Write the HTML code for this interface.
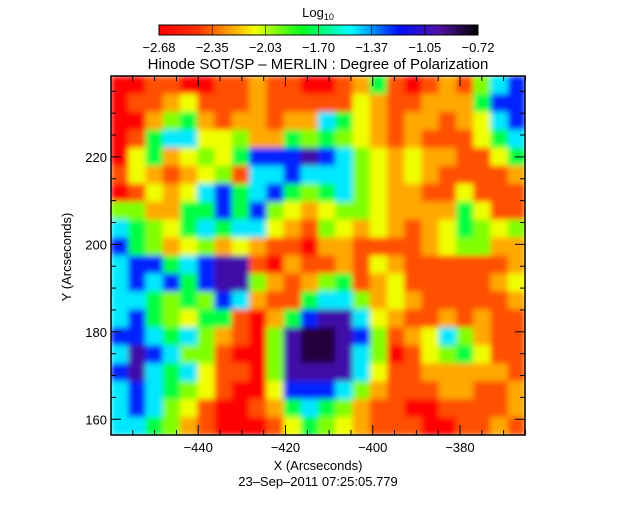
<!DOCTYPE html>
<html><head><meta charset="utf-8"><style>
body{margin:0;background:#fff;width:636px;height:512px;overflow:hidden}
text{font-family:"Liberation Sans",sans-serif;font-size:13px;fill:#000}
</style></head><body>
<svg id="chart" width="636" height="512" viewBox="0 0 636 512">
<defs><linearGradient id="cb" x1="0" x2="1" y1="0" y2="0">
<stop offset="0" stop-color="#ff0000"/><stop offset="0.12" stop-color="#ff3000"/><stop offset="0.25" stop-color="#ffc000"/><stop offset="0.3" stop-color="#f0ff00"/><stop offset="0.45" stop-color="#00ff20"/><stop offset="0.6" stop-color="#00ffff"/><stop offset="0.75" stop-color="#0010ff"/><stop offset="0.88" stop-color="#5010a0"/><stop offset="1" stop-color="#000000"/></linearGradient>
<filter id="soft" x="0" y="0" width="1" height="1"><feGaussianBlur stdDeviation="3" edgeMode="duplicate"/></filter>
<clipPath id="plotclip"><rect x="111" y="76" width="414" height="359"/></clipPath></defs>
<g clip-path="url(#plotclip)"><g id="heat" filter="url(#soft)"></g></g>
<g id="axes"></g>
<text x="318" y="17" text-anchor="middle">Log<tspan font-size="9" dy="3">10</tspan></text>
<rect x="159" y="25" width="319" height="10" fill="url(#cb)" stroke="#000" stroke-width="1"/>
<g id="cbticks"></g>
<text x="318" y="69" text-anchor="middle" style="font-size:15px">Hinode SOT/SP – MERLIN : Degree of Polarization</text>
<text x="318" y="470" text-anchor="middle">X (Arcseconds)</text>
<text x="318" y="486" text-anchor="middle">23–Sep–2011 07:25:05.779</text>
<text transform="translate(71,257) rotate(-90)" text-anchor="middle">Y (Arcseconds)</text>
</svg>
<script>
const colorLevels=["#ff0000","#ff5000","#ffa800","#f0ff00","#80ff00","#00ff40","#00e8ff","#0020ff","#4010a8","#28003c"];
const gridRows=[
[0,0,1,1,0,0,1,1,2,1,1,0, 0,1,2,5,1,0,1,2,1,4,6,7],
[0,1,1,2,3,1,1,1,2,1,1,1, 1,1,3,2,1,1,2,2,2,5,7,7],
[0,0,2,4,5,2,1,2,2,1,2,2, 6,5,3,2,1,2,2,1,2,3,6,7],
[0,1,5,6,6,3,3,4,2,2,5,4, 5,4,3,2,1,2,1,1,1,3,5,6],
[0,3,5,2,3,4,3,5,7,7,7,8, 7,6,4,3,2,3,2,2,1,1,3,5],
[1,3,2,1,2,3,4,1,6,6,7,6, 6,6,4,3,2,3,2,1,1,1,1,2],
[0,1,3,2,3,6,7,5,6,7,5,4, 5,6,4,3,2,2,1,1,3,1,1,1],
[4,4,2,2,5,5,7,5,7,4,3,2, 3,4,4,3,2,2,2,2,5,3,1,1],
[6,5,4,3,5,6,5,6,6,3,2,1, 4,3,2,3,2,1,2,3,5,4,3,4],
[7,5,4,2,3,4,2,3,2,1,1,0, 2,2,1,1,1,1,2,3,4,4,2,2],
[6,7,7,5,6,7,8,8,1,0,2,1, 1,2,1,3,2,1,1,1,1,1,1,2],
[6,7,6,7,5,7,8,8,4,2,1,2, 4,5,1,2,3,1,1,1,1,1,2,3],
[6,6,5,4,5,4,7,6,2,1,1,5, 6,6,4,2,3,2,1,1,1,1,1,2],
[6,7,5,4,3,5,5,1,0,2,5,7, 8,8,6,3,2,1,1,2,1,2,1,1],
[7,7,6,5,6,4,2,1,0,4,8,9, 9,8,7,4,1,2,3,6,4,2,1,1],
[6,8,7,6,4,4,1,0,0,4,8,9, 9,8,6,4,0,1,3,4,5,3,1,1],
[7,8,6,5,6,3,1,1,0,4,8,8, 8,8,6,3,1,1,2,2,2,2,2,1],
[6,7,6,5,4,3,1,0,0,3,7,7, 7,6,4,2,1,1,1,2,2,1,1,2],
[6,7,6,4,3,1,0,0,1,2,5,6, 5,4,2,1,1,0,0,1,1,1,1,2],
[6,6,5,4,2,1,0,0,0,1,3,5, 4,3,2,1,1,1,0,0,1,1,2,1]];
const xTicks=[-440,-420,-400,-380];
const yTicks=[160,180,200,220];
const cbLabels=["−2.68","−2.35","−2.03","−1.70","−1.37","−1.05","−0.72"];
const X0=-460,X1=-365.1,Y0=156.4,Y1=238.5;
const L=111,R=525,T=76,B=435;
const sx=v=>L+(v-X0)/(X1-X0)*(R-L);
const sy=v=>B-(v-Y0)/(Y1-Y0)*(B-T);
const NS="http://www.w3.org/2000/svg";
function mk(tag,attrs,parent){const e=document.createElementNS(NS,tag);for(const k in attrs)e.setAttribute(k,attrs[k]);parent.appendChild(e);return e;}
const heat=document.getElementById('heat');
const nr=gridRows.length,nc=gridRows[0].length;
const cw=(R-L)/nc,ch=(B-T)/nr;
gridRows.forEach((row,i)=>row.forEach((v,j)=>{
 const r=mk('rect',{x:L+j*cw,y:T+i*ch,width:cw+0.5,height:ch+0.5,fill:colorLevels[v]},heat);
 
 
}));
const ax=document.getElementById('axes');
const frame=mk('rect',{x:L,y:T,width:R-L,height:B-T,fill:'none',stroke:'#000','stroke-width':1.5},ax);


for(let v=-460;v<=-365;v+=5){const x=sx(v),big=v%20===0;const len=big?10:5;
 mk('line',{x1:x,x2:x,y1:B,y2:B-len,stroke:'#000'},ax);mk('line',{x1:x,x2:x,y1:T,y2:T+len,stroke:'#000'},ax);}
for(let v=160;v<=238;v+=5){const y=sy(v),big=v%20===0;const len=big?10:5;
 mk('line',{x1:L,x2:L+len,y1:y,y2:y,stroke:'#000'},ax);mk('line',{x1:R,x2:R-len,y1:y,y2:y,stroke:'#000'},ax);}
xTicks.forEach(v=>{const t=mk('text',{x:sx(v),y:452,'text-anchor':'middle'},ax);t.textContent=String(v).replace('-','−');
 
 });
yTicks.forEach(v=>{const t=mk('text',{x:107,y:sy(v)+5,'text-anchor':'end'},ax);t.textContent=v;
 
 });
const cbt=document.getElementById('cbticks');
cbLabels.forEach((s,i)=>{const x=159+i*319/6;
 mk('line',{x1:x,x2:x,y1:25,y2:35,stroke:'#000','stroke-width':0.6},cbt);
 const t=mk('text',{x:x,y:52,'text-anchor':'middle'},cbt);t.textContent=s;
 
 });
</script>
</body></html>
